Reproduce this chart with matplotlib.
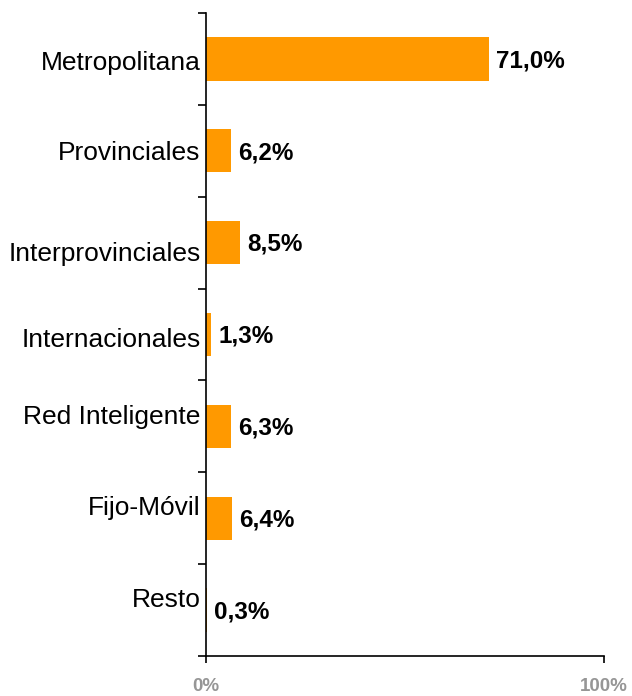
import matplotlib.pyplot as plt
import matplotlib.transforms as mtransforms
import numpy as np

categorias = ["Metropolitana", "Provinciales", "Interprovinciales", "Internacionales",
              "Red Inteligente", "Fijo-Móvil", "Resto"]
valores = [71.0, 6.2, 8.5, 1.3, 6.3, 6.4, 0.3]
etiquetas = ["71,0%", "6,2%", "8,5%", "1,3%", "6,3%", "6,4%", "0,3%"]

plt.rcParams['font.family'] = ['Liberation Sans', 'DejaVu Sans']

fig = plt.figure(figsize=(6.32, 6.96), dpi=100)
ax = fig.add_axes([0.326, 0.0575, 0.63, 0.9238])

y = np.arange(len(categorias))
ax.barh(y, valores, height=0.47, color='#FF9900')
for yi, v, t in zip(y, valores, etiquetas):
    ax.text(v + 1.8, yi + 0.02, t, va='center', ha='left', fontsize=17.5,
            fontweight='bold')

ax.set_xlim(0, 100)
ax.set_ylim(len(categorias) - 0.5, -0.5)
ax.set_yticks(y)
ax.set_yticklabels(categorias, fontsize=19)
ax.tick_params(axis='y', length=0, pad=4)
ax.set_yticks(np.arange(-0.5, len(categorias)), minor=True)
ax.tick_params(axis='y', which='minor', length=6, width=1.2, direction='out')

# the category labels sit a little off the bar centres in the original
desplaz = [2, 0, 9, 3, -12, -13, -13]
for lbl, d in zip(ax.get_yticklabels(), desplaz):
    lbl.set_transform(lbl.get_transform() +
                      mtransforms.ScaledTranslation(0, -d / 100, fig.dpi_scale_trans))

ax.set_xticks([0, 100])
ax.set_xticklabels(["0%", "100%"])
for lbl in ax.get_xticklabels():
    lbl.set_fontsize(13.5)
    lbl.set_fontweight('bold')
    lbl.set_color('#969696')
ax.tick_params(axis='x', length=5, width=1.2, direction='out', pad=11)

for s in ['top', 'right']:
    ax.spines[s].set_visible(False)
for s in ['left', 'bottom']:
    ax.spines[s].set_linewidth(1.2)

fig.savefig('out.png', dpi=100)
